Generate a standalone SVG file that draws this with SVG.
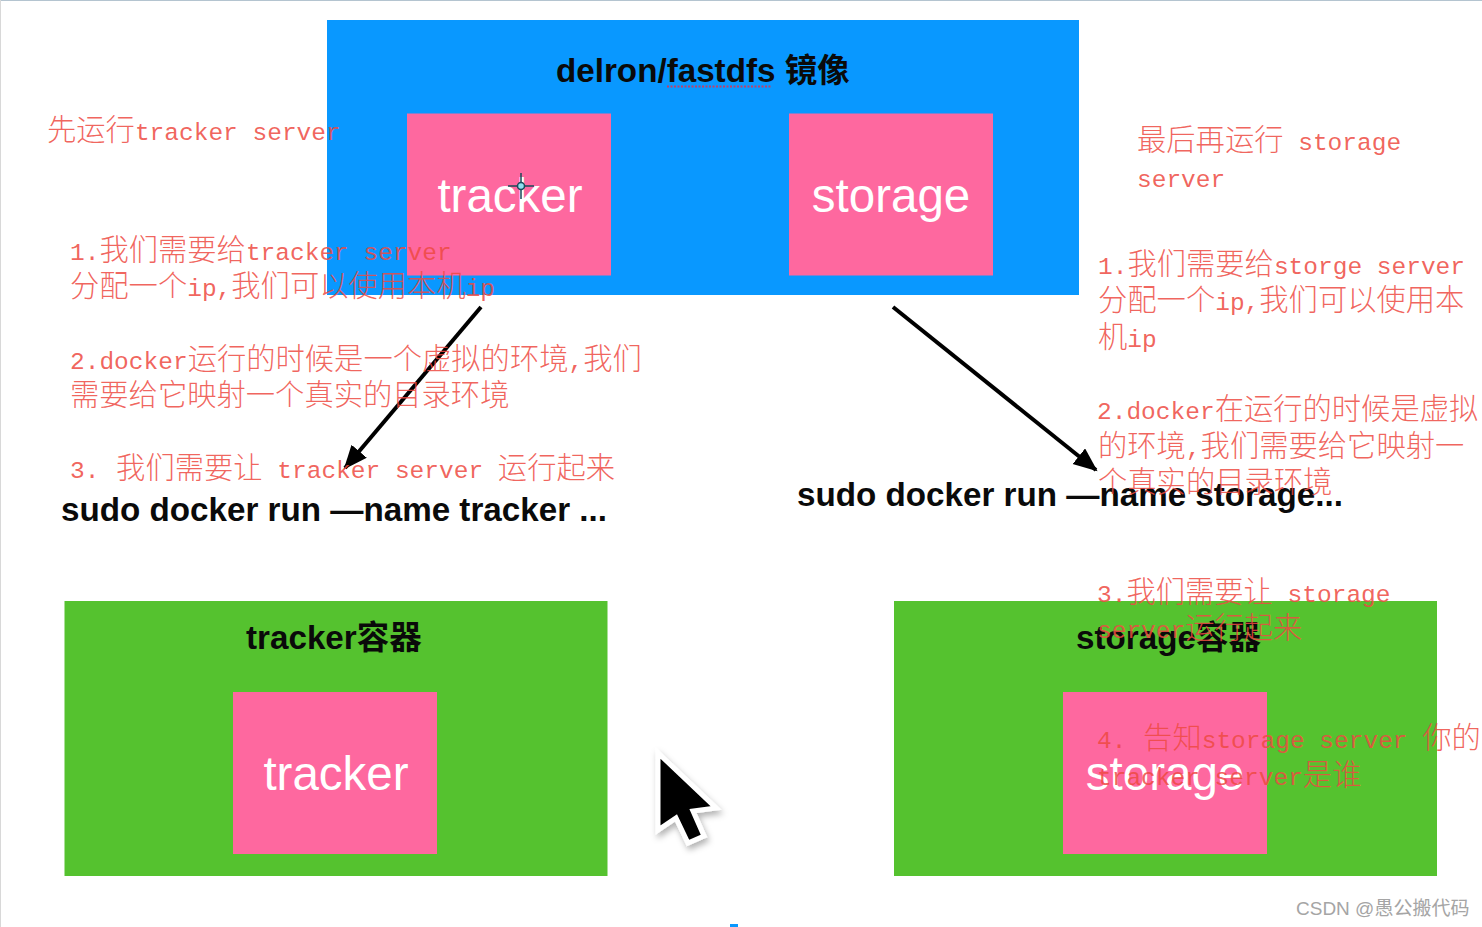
<svg xmlns="http://www.w3.org/2000/svg" width="1482" height="927" viewBox="0 0 1482 927">
<style>
text{font-family:"Liberation Sans","Noto Sans CJK SC",sans-serif}
.blue{fill:#0998ff}.pink{fill:#fe689f}.green{fill:#55c22f}
.w{fill:#fff;font-size:47.500px;text-anchor:middle}
.b{fill:#0a0a0a;font-size:33.200px;font-weight:bold}
.r{font-family:"Liberation Mono","Noto Sans CJK SC",monospace;font-size:24.500px;fill:#ee4a42;fill-opacity:.85}
.z{font-family:"Noto Sans CJK SC",sans-serif;font-size:29.300px;font-weight:300}
.c{stroke:#000;stroke-width:4;fill:none;marker-end:url(#a)}
</style>
<defs>
<marker id="a" markerUnits="userSpaceOnUse" markerWidth="26" markerHeight="22" refX="22" refY="10" orient="auto"><path d="M0 0L24 10L0 20Z" fill="#000"/></marker>
<filter id="s" x="-30%" y="-30%" width="170%" height="170%"><feDropShadow dx="2" dy="4" stdDeviation="3" flood-color="#000" flood-opacity=".3"/></filter>
</defs>
<rect width="1482" height="927" fill="#fff"/>
<path d="M0 .5H1482" stroke="#b4c4d0" fill="none"/>
<path d="M.5 0V927" stroke="#d8d8d8" fill="none"/>
<g id="image">
<rect class="blue" x="327" y="20" width="752" height="275"/>
<text class="b" x="556" y="82">delron/fastdfs <tspan font-size="32.500">镜像</tspan></text>
<path d="M667 86.500H772" stroke="#c0406a" stroke-width="2" stroke-dasharray="2 1.500" fill="none"/>
</g>
<g id="tracker-image">
<rect class="pink" x="407" y="113.500" width="204" height="162"/>
<text class="w" x="510" y="212">tracker</text>
<g fill="none"><path d="M521 173V199M508 186H534" stroke="#1a4a5a" stroke-width="1.500"/><circle cx="521" cy="186" r="3.500" fill="#8fe0f0" stroke="#1a4a5a" stroke-width="1.500"/></g>
</g>
<g id="storage-image">
<rect class="pink" x="789" y="113.500" width="204" height="162"/>
<text class="w" x="891" y="212">storage</text>
</g>
<g id="tracker-container">
<rect class="green" x="64.500" y="601" width="543" height="275"/>
<text class="b" x="246" y="649">tracker<tspan font-size="32.500">容器</tspan></text>
<rect class="pink" x="233" y="692" width="204" height="162"/>
<text class="w" x="336" y="790">tracker</text>
</g>
<g id="storage-container">
<rect class="green" x="894" y="601" width="543" height="275"/>
<text class="b" x="1076" y="649">storage<tspan font-size="32.500">容器</tspan></text>
<rect class="pink" x="1063" y="692" width="204" height="162"/>
<text class="w" x="1165" y="790">storage</text>
</g>
<g id="connectors">
<path class="c" d="M481 307L345 468"/>
<path class="c" d="M893 307L1096 470"/>
</g>
<g id="commands">
<text class="b" x="61" y="521">sudo docker run —name tracker ...</text>
<text class="b" x="797" y="506">sudo docker run —name storage...</text>
</g>
<g id="notes">
<text class="r" x="47" y="140"><tspan class="z">先运行</tspan>tracker server</text>
<text class="r" x="70" y="260">1.<tspan class="z">我们需要给</tspan>tracker server</text>
<text class="r" x="70" y="296"><tspan class="z">分配一个</tspan>ip,<tspan class="z">我们可以使用本机</tspan>ip</text>
<text class="r" x="70" y="369">2.docker<tspan class="z">运行的时候是一个虚拟的环境</tspan>,<tspan class="z">我们</tspan></text>
<text class="r" x="70" y="405"><tspan class="z">需要给它映射一个真实的目录环境</tspan></text>
<text class="r" x="70" y="478">3. <tspan class="z" dx="2">我们需要让</tspan> tracker server <tspan class="z">运行起来</tspan></text>
<text class="r" x="1137" y="150"><tspan class="z">最后再运行</tspan> storage</text>
<text class="r" x="1137" y="187">server</text>
<text class="r" x="1098" y="274">1.<tspan class="z">我们需要给</tspan>storge server</text>
<text class="r" x="1098" y="310"><tspan class="z">分配一个</tspan>ip,<tspan class="z">我们可以使用本</tspan></text>
<text class="r" x="1098" y="347"><tspan class="z">机</tspan>ip</text>
<text class="r" x="1097" y="419">2.docker<tspan class="z">在运行的时候是虚拟</tspan></text>
<text class="r" x="1098" y="456"><tspan class="z">的环境</tspan>,<tspan class="z">我们需要给它映射一</tspan></text>
<text class="r" x="1098" y="492"><tspan class="z">个真实的目录环境</tspan></text>
<text class="r" x="1097" y="602">3.<tspan class="z">我们需要让</tspan> storage</text>
<text class="r" x="1097" y="638">server<tspan class="z">运行起来</tspan></text>
<text class="r" x="1097" y="748">4. <tspan class="z" dx="2">告知</tspan>storage server <tspan class="z">你的</tspan></text>
<text class="r" x="1097" y="785">tracker server<tspan class="z">是谁</tspan></text>
</g>
<g id="cursor" filter="url(#s)">
<path d="M658 753L658 830L676 818L688 843L704 836L693 811L716 808Z" fill="#000" stroke="#fff" stroke-width="5" stroke-linejoin="miter"/>
</g>
<path d="M730 925.500H738" stroke="#0998ff" stroke-width="3" fill="none"/>
<text x="1296" y="915" font-size="19" fill="#a5a5a5">CSDN @愚公搬代码</text>
</svg>
